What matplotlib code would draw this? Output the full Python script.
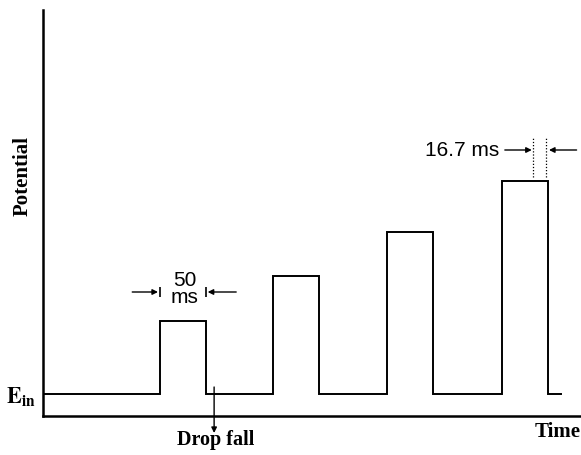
import matplotlib
matplotlib.use("Agg")
import matplotlib.pyplot as plt

# pulse train (time in ms, potential in arbitrary units)
pulse_start_ms = [127, 250, 374, 499]
pulse_width_ms = 50
pulse_height = [9.5, 14.0, 18.4, 23.5]
e_in = 2.2
t_end = 563
drop_fall_ms = 186
sample_ms = 16.7

serif = "Liberation Serif"
sans = "Liberation Sans"
plt.rcParams["mathtext.fontset"] = "stix"

# build the step trace from the pulse list
t = [0]
v = [e_in]
for s, h in zip(pulse_start_ms, pulse_height):
    t += [s, s, s + pulse_width_ms, s + pulse_width_ms]
    v += [e_in, h, h, e_in]
t.append(t_end)
v.append(e_in)

fig = plt.figure(figsize=(5.81, 4.55), dpi=100)
ax = fig.add_axes([43 / 581, 39 / 455, 538 / 581, 406 / 455])
ax.plot(t, v, color="black", lw=1.4, solid_joinstyle="miter")

ax.set_xlim(0, 584.8)
ax.set_ylim(0, 40.6)
for side in ("top", "right"):
    ax.spines[side].set_visible(False)
for side in ("left", "bottom"):
    ax.spines[side].set_linewidth(1.8)
ax.set_xticks([])
ax.set_yticks([e_in])
ax.set_yticklabels([r"$\mathbf{E}_{\mathbf{in}}$"], fontsize=16)
ax.tick_params(axis="y", length=0, pad=5)

ax.set_ylabel("Potential", fontfamily=serif, fontweight="bold", fontsize=15)
ax.yaxis.set_label_coords(-0.02, 0.59)
ax.text(1.0, -0.039, "Time", transform=ax.transAxes, ha="right", va="center",
        fontfamily=serif, fontweight="bold", fontsize=15, clip_on=False)

arrow = dict(arrowstyle="-|>", color="black", lw=1.0, mutation_scale=8,
             shrinkA=0, shrinkB=0)

# 50 ms dimension on the first pulse
s0 = pulse_start_ms[0]
e0 = s0 + pulse_width_ms
y50 = 12.4
ax.annotate("", xy=(s0 - 2, y50), xytext=(s0 - 30, y50), arrowprops=arrow)
ax.annotate("", xy=(e0 + 2, y50), xytext=(e0 + 33, y50), arrowprops=arrow)
ax.plot([s0, e0], [y50, y50], ls="none", marker="|", ms=7, mew=1.2, color="black")
ax.text((s0 + e0) / 2 + 2, 12.7, "50\nms", ha="center", va="center",
        fontfamily=sans, fontsize=15, linespacing=0.9)

# drop fall marker
ax.annotate("", xy=(drop_fall_ms, -1.7), xytext=(drop_fall_ms, 2.9),
            arrowprops=arrow, annotation_clip=False)
ax.text(drop_fall_ms + 2, -2.4, "Drop fall", ha="center", va="center",
        fontfamily=serif, fontweight="bold", fontsize=14.5, clip_on=False)

# 16.7 ms sampling window on the last pulse
e3 = pulse_start_ms[-1] + pulse_width_ms
top3 = pulse_height[-1]
for x in (e3 - sample_ms, e3 - 2):
    ax.plot([x, x], [top3 + 0.4, top3 + 4.4], color="black", lw=0.9, ls=(0, (1, 1.5)))
ya = 26.6
ax.annotate("", xy=(e3 - sample_ms - 1, ya), xytext=(e3 - 47, ya), arrowprops=arrow)
ax.annotate("", xy=(e3 + 1, ya), xytext=(e3 + 31, ya), arrowprops=arrow,
            annotation_clip=False)
ax.text(e3 - 53, ya, "16.7 ms", ha="right", va="center", fontfamily=sans, fontsize=15)

fig.savefig("out.png", dpi=100)
